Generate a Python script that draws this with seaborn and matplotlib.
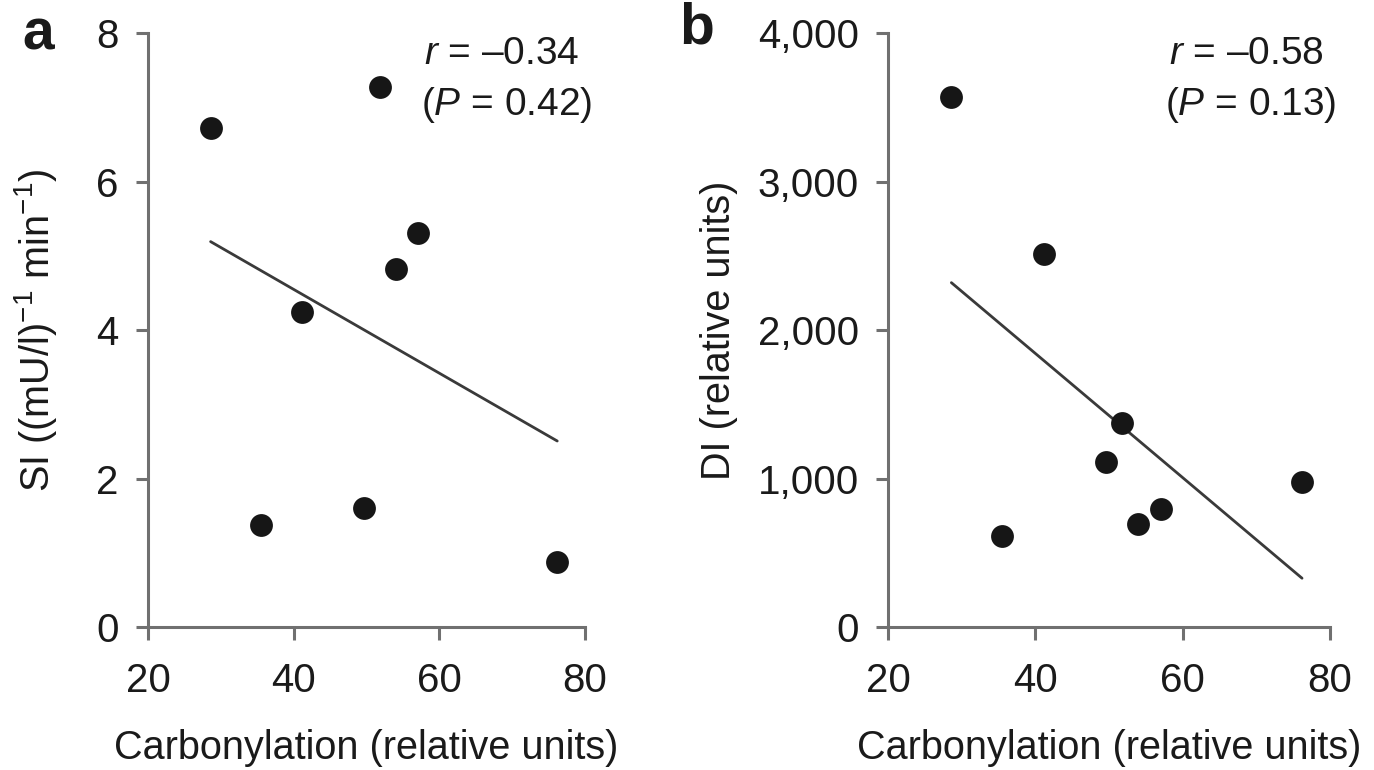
import numpy as np
import pandas as pd
import matplotlib
matplotlib.use('Agg')
import matplotlib.pyplot as plt
import seaborn as sns

# values
carbonylation = [28.6, 51.8, 57.1, 54.0, 41.2, 35.5, 49.6, 76.2]
si_values = [6.72, 7.27, 5.31, 4.82, 4.24, 1.37, 1.60, 0.875]
di_values = [3569, 1374, 795, 694, 2512, 613, 1111, 976]

si_stats = ['$\\it{r}$ = \u20130.34', '($\\it{P}$ = 0.42)']
di_stats = ['$\\it{r}$ = \u20130.58', '($\\it{P}$ = 0.13)']

x_ticks = [20, 40, 60, 80]
si_ticks = [0, 2, 4, 6, 8]
di_ticks = [0, 1000, 2000, 3000, 4000]
di_ticklabels = ['0', '1,000', '2,000', '3,000', '4,000']

sns.set_style('ticks')
plt.rcParams['font.family'] = ['Liberation Sans', 'DejaVu Sans']
plt.rcParams['mathtext.fontset'] = 'custom'
plt.rcParams['mathtext.rm'] = 'Liberation Sans'
plt.rcParams['mathtext.it'] = 'Liberation Sans:italic'

spine_col = '#707070'
text_col = '#1a1a1a'
fs = 29

df_si = pd.DataFrame({'carb': carbonylation, 'val': si_values})
df_di = pd.DataFrame({'carb': carbonylation, 'val': di_values})

fig = plt.figure(figsize=(13.74, 7.7), dpi=100)
ax1 = fig.add_axes([0.1077, 0.1857, 0.318, 0.7714])
ax2 = fig.add_axes([0.6463, 0.1857, 0.3217, 0.7714])


def draw_panel(ax, df, yticks, ylabel, stats, yticklabels=None, ylabelpad=22):
    sns.regplot(data=df, x='carb', y='val', ax=ax, ci=None,
                scatter_kws=dict(s=270, color='#161616', alpha=1, linewidths=0,
                                 clip_on=False, zorder=3),
                line_kws=dict(color='#3a3a3a', lw=2.0))
    ax.set_xlim(20, 80)
    ax.set_ylim(yticks[0], yticks[-1])
    ax.set_xticks(x_ticks)
    ax.set_yticks(yticks)
    if yticklabels is not None:
        ax.set_yticklabels(yticklabels)
    sns.despine(ax=ax)
    for s in ['left', 'bottom']:
        ax.spines[s].set_color(spine_col)
        ax.spines[s].set_linewidth(2.2)
    ax.tick_params(length=9, width=2.2, color=spine_col, labelsize=fs,
                   labelcolor=text_col)
    ax.tick_params(axis='y', pad=12)
    ax.tick_params(axis='x', pad=16)
    ax.set_xlabel('Carbonylation (relative units)', fontsize=28.5,
                  color=text_col, labelpad=21)
    ax.set_ylabel(ylabel, fontsize=28.5, color=text_col, labelpad=ylabelpad)
    ax.text(0.81, 0.965, stats[0], transform=ax.transAxes, ha='center', va='center',
            fontsize=28, color=text_col)
    ax.text(0.82, 0.878, stats[1], transform=ax.transAxes, ha='center', va='center',
            fontsize=28, color=text_col)


draw_panel(ax1, df_si, si_ticks, 'SI ((mU/l)$^{-1}$ min$^{-1}$)', si_stats, ylabelpad=27)
draw_panel(ax2, df_di, di_ticks, 'DI (relative units)', di_stats, di_ticklabels, ylabelpad=14)

fig.text(0.028, 1 - 49 / 770, 'a', ha='center', va='baseline',
         fontsize=41, fontweight='bold', color=text_col)
fig.text(0.507, 1 - 44 / 770, 'b', ha='center', va='baseline',
         fontsize=41, fontweight='bold', color=text_col)

fig.savefig('out.png', dpi=100)
